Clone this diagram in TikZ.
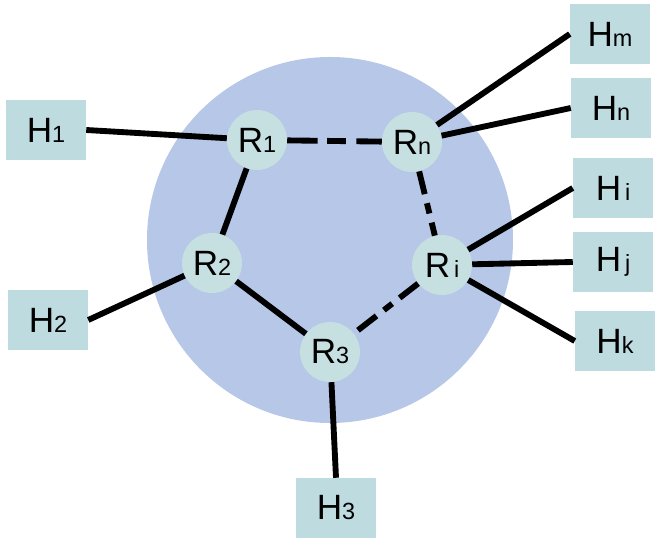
\documentclass[tikz,border=0pt]{standalone}
\usepackage{fontspec}
\setmainfont{Liberation Sans}
\usepackage{xcolor}
\usepackage{tikz}
\usetikzlibrary{positioning}

\definecolor{bigblue}{RGB}{182,199,232}
\definecolor{ringfill}{RGB}{198,224,226}
\definecolor{boxfill}{RGB}{190,219,224}
\newcommand{\hsub}[2]{#1{\fontsize{20}{22}\selectfont #2}}

\begin{document}
\begin{tikzpicture}[x=0.03cm,y=-0.03cm,
  every node/.style={font=\fontsize{30}{34}\selectfont},
  ring/.style={circle,fill=ringfill,minimum size=1.8cm,inner sep=0pt},
  hbox/.style={rectangle,fill=boxfill,minimum width=2.4cm,minimum height=1.8cm,inner sep=0pt},
  bond/.style={line width=5pt,black},
  weak/.style={bond,dash pattern=on 20pt off 8pt on 9pt off 8pt},
  weaklong/.style={bond,dash pattern=on 26pt off 8pt on 16pt off 9pt}]
  \useasboundingbox (0,0) rectangle (662,544);
  \fill[bigblue] (330,240) circle (5.49cm);

  % ring members
  \node[ring] (R1) at (257,140) {\hsub{R}{1}};
  \node[ring] (Rn) at (412,142) {\hsub{R}{n}};
  \node[ring] (R2) at (212,263) {\hsub{R}{2}};
  \node[ring] (Ri) at (442,265) {\hsub{R}{\,i}};
  \node[ring] (R3) at (330,352) {\hsub{R}{3}};

  % hydrogens
  \node[hbox] (H1) at (46,130) {\hsub{H}{1}};
  \node[hbox] (H2) at (48,320) {\hsub{H}{2}};
  \node[hbox] (H3) at (336,508) {\hsub{H}{3}};
  \node[hbox] (Hm) at (610,34) {\hsub{H}{m}};
  \node[hbox] (Hn) at (611,108) {\hsub{H}{n}};
  \node[hbox] (Hi) at (613,188) {\hsub{H}{\,i}};
  \node[hbox] (Hj) at (613,262) {\hsub{H}{\,j}};
  \node[hbox] (Hk) at (615,341) {\hsub{H}{k}};

  \draw[bond] (R1) -- (R2);
  \draw[bond] (R2) -- (R3);
  \draw[weaklong] (R1) -- (Rn);
  \draw[weak] (Rn) -- (Ri);
  \draw[weak] (Ri) -- (R3);

  \draw[bond] (H1.east) -- (R1);
  \draw[bond] (H2.east) -- (R2);
  \draw[bond] (H3.north) -- (R3);
  \draw[bond] (Hm.west) -- (Rn);
  \draw[bond] (Hn.west) -- (Rn);
  \draw[bond] (Hi.west) -- (Ri);
  \draw[bond] (Hj.west) -- (Ri);
  \draw[bond] (Hk.west) -- (Ri);
\end{tikzpicture}
\end{document}
